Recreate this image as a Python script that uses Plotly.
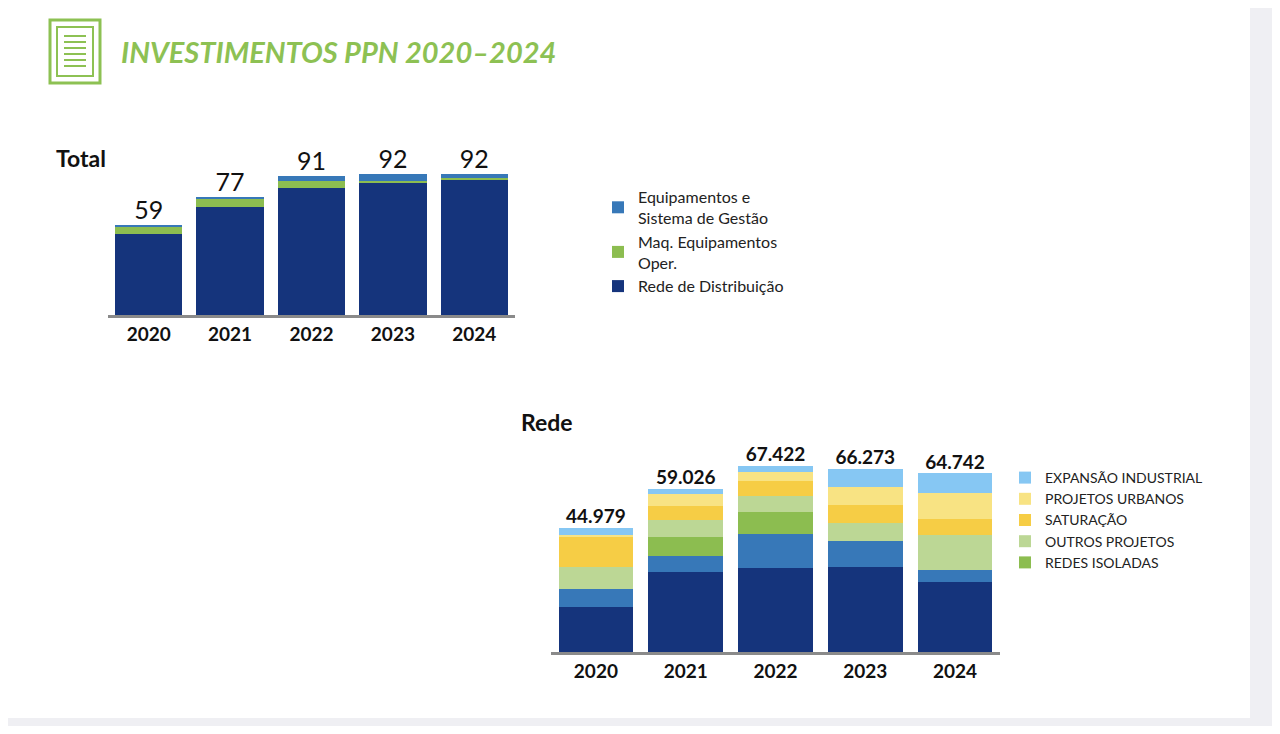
import plotly.graph_objects as go

# the page body adds an 8px margin, so the figure is sized and placed to fit inside it
OFF = 8
W, H = 1280 - 2 * OFF, 734 - 2 * OFF


def X(px):
    return (px - OFF) / W


def Y(px):
    return 1 - (px - OFF) / H


years = ['2020', '2021', '2022', '2023', '2024']

# Total (top chart)
total_labels = ['59', '77', '91', '92', '92']
total_vals = [59, 77, 91, 92, 92]
rede_dist = [53, 71, 83, 86.5, 88.5]
maq_equip = [4.5, 5, 4.5, 1.5, 1]
equip_gestao = [1.5, 1, 3.5, 4, 2.5]

# Rede (bottom chart)
rede_labels = ['44.979', '59.026', '67.422', '66.273', '64.742']
rede_vals = [44.979, 59.026, 67.422, 66.273, 64.742]
base_dark = [16.3, 29.0, 30.4, 30.8, 25.4]
base_blue = [6.5, 5.8, 12.3, 9.4, 4.3]
redes_isoladas = [0, 6.9, 8.0, 0, 0]
outros_projetos = [8.0, 6.2, 5.8, 6.5, 12.7]
saturacao = [11.2, 5.1, 5.4, 6.5, 5.8]
projetos_urbanos = [0.5, 4.3, 3.3, 6.5, 9.4]
expansao_ind = [2.5, 1.7, 2.2, 6.6, 7.1]

DARK = '#15347c'
BLUE = '#3778b8'
GREEN = '#8cbd50'
LGREEN = '#bcd795'
SAT = '#f6cd45'
URB = '#f8e383'
EXP = '#86c7f3'
FONT = 'Lato, Open Sans, sans-serif'

fig = go.Figure()


def bar(x, y, name, color, xa, ya, legend, show=True):
    fig.add_trace(go.Bar(x=x, y=y, name=name, marker=dict(color=color, line=dict(width=0)),
                         xaxis=xa, yaxis=ya, legend=legend, showlegend=show, legendgroup=name))


bar(years, rede_dist, 'Rede de Distribuição', DARK, 'x', 'y', 'legend')
bar(years, maq_equip, 'Maq. Equipamentos<br>Oper.', GREEN, 'x', 'y', 'legend')
bar(years, equip_gestao, 'Equipamentos e<br>Sistema de Gestão', BLUE, 'x', 'y', 'legend')
fig.add_trace(go.Scatter(x=years, y=total_vals, text=total_labels, mode='text',
                         textposition='top center', textfont=dict(size=25, color='#111', family=FONT),
                         xaxis='x', yaxis='y', showlegend=False, cliponaxis=False))

bar(years, base_dark, 'Rede base', DARK, 'x2', 'y2', 'legend2', False)
bar(years, base_blue, 'Rede complementar', BLUE, 'x2', 'y2', 'legend2', False)
bar(years, redes_isoladas, 'REDES ISOLADAS', GREEN, 'x2', 'y2', 'legend2')
bar(years, outros_projetos, 'OUTROS PROJETOS', LGREEN, 'x2', 'y2', 'legend2')
bar(years, saturacao, 'SATURAÇÃO', SAT, 'x2', 'y2', 'legend2')
bar(years, projetos_urbanos, 'PROJETOS URBANOS', URB, 'x2', 'y2', 'legend2')
bar(years, expansao_ind, 'EXPANSÃO INDUSTRIAL', EXP, 'x2', 'y2', 'legend2')
fig.add_trace(go.Scatter(x=years, y=rede_vals, text=rede_labels, mode='text',
                         textposition='top center', textfont=dict(size=19, color='#111', family=FONT, weight='bold'),
                         xaxis='x2', yaxis='y2', showlegend=False, cliponaxis=False))

ax = dict(showgrid=False, showline=True, linecolor='#8a8a8a', linewidth=3, ticks='',
          tickfont=dict(size=19, color='#111', family=FONT, weight='bold'))
ay = dict(visible=False, showgrid=False, zeroline=False)

fig.update_layout(
    width=W, height=H, margin=dict(l=0, r=0, t=0, b=0),
    paper_bgcolor='#efeff3', plot_bgcolor='rgba(0,0,0,0)',
    barmode='stack', bargap=0.17, font=dict(family=FONT),
    xaxis=dict(ax, domain=[X(108), X(515)], anchor='y'),
    yaxis=dict(ay, domain=[Y(315), Y(150)], range=[0, 108]),
    xaxis2=dict(ax, domain=[X(551), X(1000)], anchor='y2'),
    yaxis2=dict(ay, domain=[Y(652), Y(440)], range=[0, 76.8]),
    legend=dict(x=X(598), y=Y(180), xanchor='left', yanchor='top', traceorder='reversed',
                font=dict(size=16, color='#222', family=FONT), bgcolor='rgba(0,0,0,0)',
                itemwidth=30, tracegroupgap=4),
    legend2=dict(x=X(1005), y=Y(462), xanchor='left', yanchor='top', traceorder='reversed',
                 font=dict(size=14, color='#222', family=FONT), bgcolor='rgba(0,0,0,0)',
                 itemwidth=30, tracegroupgap=17),
    shapes=[
        dict(type='rect', xref='paper', yref='paper', x0=0, x1=X(1250), y0=Y(718), y1=1,
             fillcolor='white', line=dict(width=0), layer='below'),
        dict(type='rect', xref='paper', yref='paper', x0=X(50), x1=X(100), y0=Y(83), y1=Y(20),
             line=dict(color='#8dc153', width=3), fillcolor='rgba(0,0,0,0)'),
        dict(type='rect', xref='paper', yref='paper', x0=X(57), x1=X(93), y0=Y(76), y1=Y(27),
             line=dict(color='#8dc153', width=2), fillcolor='rgba(0,0,0,0)'),
    ] + [
        dict(type='line', xref='paper', yref='paper', x0=X(64), x1=X(86),
             y0=Y(36 + 6 * i), y1=Y(36 + 6 * i), line=dict(color='#8dc153', width=2))
        for i in range(6)
    ],
    annotations=[
        dict(text='INVESTIMENTOS PPN 2020–2024', x=X(119), y=Y(52), xref='paper', yref='paper',
             xanchor='left', yanchor='middle', showarrow=False,
             font=dict(size=29, color='#8dc153', family=FONT, weight='bold', style='italic')),
        dict(text='<b>Total</b>', x=X(54), y=Y(158), xref='paper', yref='paper',
             xanchor='left', yanchor='middle', showarrow=False, font=dict(size=23, color='#111', family=FONT)),
        dict(text='<b>Rede</b>', x=X(519), y=Y(422), xref='paper', yref='paper',
             xanchor='left', yanchor='middle', showarrow=False, font=dict(size=23, color='#111', family=FONT)),
    ],
)

fig.write_html('out.html')
